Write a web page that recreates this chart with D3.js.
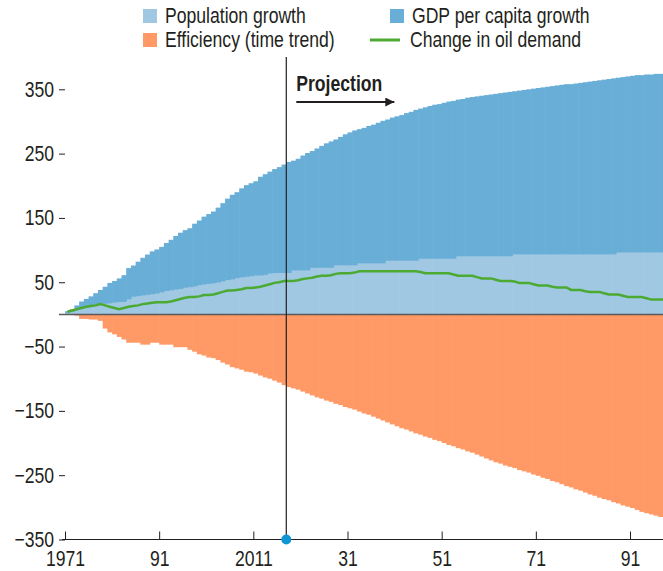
<!DOCTYPE html>
<html lang="en">
<head>
<meta charset="utf-8"/>
<title>Oil demand decomposition</title>
<script src="https://d3js.org/d3.v7.min.js"></script>
<style>
  body { margin: 0; background: #fff; }
  svg text {
    font-family: "Liberation Sans", Arial, sans-serif;
    font-size: 22px;
    fill: #231f20;
  }
  .axis .domain { display: none; }
  .axis line { stroke: #231f20; }
</style>
</head>
<body>
<div id="chart"></div>
<script>
// yearly contributions, 1971-2098
var firstYear = 1971;

var pop = [
  3, 5, 9, 10, 11, 12, 14, 16, 17, 18,
  19, 20, 20, 24, 28, 29, 30, 31, 32, 33,
  35, 37, 38, 39, 40, 42, 43, 44, 46, 47,
  48, 49, 50, 52, 54, 55, 57, 58, 59, 60,
  61, 61, 62, 64, 65, 65, 65, 65, 69, 69,
  69, 69, 73, 73, 73, 73, 73, 77, 77, 77,
  77, 77, 80, 80, 80, 80, 80, 80, 84, 84,
  84, 84, 84, 84, 84, 87, 87, 87, 87, 87,
  87, 87, 87, 91, 91, 91, 91, 91, 91, 91,
  91, 91, 91, 91, 91, 94, 94, 94, 94, 94,
  94, 94, 94, 94, 94, 94, 94, 94, 94, 94,
  94, 94, 94, 94, 94, 94, 94, 97, 97, 97,
  97, 97, 97, 97, 97, 97, 97, 97
];

var gdp = [
  2, 2, 5, 10, 13, 16, 19, 22, 26, 31,
  33, 36, 41, 48, 48, 53, 58, 62, 66, 68,
  70, 74, 78, 83, 87, 89, 91, 97, 100, 105,
  108, 111, 116, 121, 126, 131, 133, 138, 142, 144,
  146, 153, 156, 158, 161, 164, 168, 172, 170, 173,
  178, 182, 181, 185, 189, 193, 196, 195, 199, 203,
  206, 209, 208, 210, 213, 215, 218, 221, 219, 222,
  224, 226, 229, 231, 234, 233, 235, 237, 239, 240,
  242, 244, 245, 243, 244, 246, 247, 248, 249, 250,
  251, 252, 253, 254, 255, 253, 254, 255, 256, 257,
  258, 259, 260, 261, 262, 263, 264, 264, 265, 266,
  267, 268, 269, 270, 271, 272, 273, 271, 272, 273,
  274, 275, 275, 276, 276, 277, 277, 278
];

var eff = [
  2, 8, -2, -7, -7, -8, -8, -10, -22, -28,
  -31, -35, -39, -44, -44, -44, -47, -47, -44, -44,
  -47, -47, -47, -51, -51, -51, -55, -58, -62, -64,
  -67, -68, -71, -75, -78, -82, -84, -86, -89, -90,
  -92, -95, -98, -100, -103, -106, -110, -113, -115, -117,
  -120, -123, -126, -129, -131, -134, -136, -139, -141, -144,
  -146, -148, -151, -154, -156, -159, -162, -165, -168, -171,
  -174, -177, -179, -182, -185, -187, -190, -192, -195, -197,
  -200, -203, -205, -208, -210, -213, -215, -218, -221, -224,
  -227, -230, -232, -235, -237, -239, -242, -244, -246, -249,
  -251, -254, -256, -259, -261, -264, -267, -269, -272, -274,
  -277, -280, -282, -285, -287, -289, -292, -294, -297, -299,
  -301, -304, -307, -309, -311, -313, -315, -317
];

var oil = [
  4, 6, 8, 10, 12, 13, 14, 16, 14, 12,
  10, 8, 10, 12, 13, 14, 16, 17, 18, 19,
  19, 19, 20, 22, 24, 26, 27, 27, 28, 30,
  30, 31, 33, 35, 37, 37, 38, 39, 41, 41,
  42, 43, 45, 47, 49, 50, 52, 52, 52, 53,
  55, 56, 57, 59, 60, 60, 61, 63, 64, 64,
  64, 65, 67, 67, 67, 67, 67, 67, 67, 67,
  67, 67, 67, 67, 67, 66, 64, 64, 64, 64,
  64, 64, 62, 60, 60, 60, 60, 58, 56, 56,
  56, 54, 52, 52, 52, 51, 49, 49, 49, 47,
  45, 45, 45, 43, 42, 42, 42, 38, 38, 38,
  36, 35, 35, 35, 33, 31, 31, 31, 29, 27,
  27, 27, 27, 25, 23, 23, 23, 23
];

var projectionYear = 2018;
var yTicks = [350, 250, 150, 50, -50, -150, -250, -350];
var xTicks = [1971, 1991, 2011, 2031, 2051, 2071, 2091];
var xTickLabels = ["1971", "91", "2011", "31", "51", "71", "91"];

var legendItems = [
  {name: "Population growth", color: "#a0c8e3", type: "box", col: 0, row: 0},
  {name: "GDP per capita growth", color: "#68aed6", type: "box", col: 1, row: 0},
  {name: "Efficiency (time trend)", color: "#ff9966", type: "box", col: 0, row: 1},
  {name: "Change in oil demand", color: "#4caa32", type: "line", col: 1, row: 1}
];

var width = 663, height = 571;
var squeeze = 0.8; // condensed look from a regular face

// squash text horizontally, keeping its anchor point
function narrow(sel) {
  sel.each(function() {
    var t = d3.select(this);
    var xv = +t.attr("x") || 0;
    t.attr("x", xv / squeeze).attr("transform", "scale(" + squeeze + ",1)");
  });
}

var svg = d3.select("#chart").append("svg")
  .attr("width", width)
  .attr("height", height);

var x = d3.scaleLinear().domain([1971, 2091]).range([65, 630]);
var y = d3.scaleLinear().domain([-350, 350]).range([539.5, 89.3]);

var data = pop.map(function(p, i) {
  return {year: firstYear + i, pop: p, gdp: gdp[i], eff: eff[i], oil: oil[i]};
});

function barX(d) { return x(d.year); }
function barW(d) { return x(d.year + 1) - x(d.year) + 0.6; }

var bars = svg.append("g");

// efficiency (below zero)
bars.append("g").attr("fill", "#ff9966")
  .selectAll("rect").data(data).enter().append("rect")
  .attr("x", barX)
  .attr("width", barW)
  .attr("y", function(d) { return y(Math.max(0, d.eff)); })
  .attr("height", function(d) { return Math.abs(y(d.eff) - y(0)); });

// population
bars.append("g").attr("fill", "#a0c8e3")
  .selectAll("rect").data(data).enter().append("rect")
  .attr("x", barX)
  .attr("width", barW)
  .attr("y", function(d) { return y(d.pop); })
  .attr("height", function(d) { return y(0) - y(d.pop); });

// gdp per capita, stacked on population
bars.append("g").attr("fill", "#68aed6")
  .selectAll("rect").data(data).enter().append("rect")
  .attr("x", barX)
  .attr("width", barW)
  .attr("y", function(d) { return y(d.pop + d.gdp); })
  .attr("height", function(d) { return y(d.pop) - y(d.pop + d.gdp) + 0.4; });

// zero line
svg.append("line")
  .attr("x1", x.range()[0] - 6).attr("x2", width)
  .attr("y1", y(0)).attr("y2", y(0))
  .attr("stroke", "#5a5a5a")
  .attr("stroke-width", 1.5);

// oil demand line
var line = d3.line()
  .x(function(d) { return x(d.year + 0.5); })
  .y(function(d) { return y(d.oil); });

svg.append("path")
  .datum(data)
  .attr("fill", "none")
  .attr("stroke", "#4caa32")
  .attr("stroke-width", 2.5)
  .attr("d", line);

// projection marker
var px = x(projectionYear);
svg.append("line")
  .attr("x1", px).attr("x2", px)
  .attr("y1", 57).attr("y2", y(-350))
  .attr("stroke", "#231f20")
  .attr("stroke-width", 1.2);

svg.append("text")
  .attr("x", px + 10)
  .attr("y", 91)
  .attr("font-weight", "bold")
  .text("Projection")
  .call(narrow);

svg.append("defs").append("marker")
  .attr("id", "arrow")
  .attr("viewBox", "0 0 10 10")
  .attr("refX", 10).attr("refY", 5)
  .attr("markerWidth", 10).attr("markerHeight", 9)
  .attr("markerUnits", "userSpaceOnUse")
  .attr("orient", "auto")
  .append("path")
  .attr("d", "M0,0L10,5L0,10z")
  .attr("fill", "#231f20");

svg.append("line")
  .attr("x1", px + 10).attr("x2", px + 108)
  .attr("y1", 102).attr("y2", 102)
  .attr("stroke", "#231f20")
  .attr("stroke-width", 2)
  .attr("marker-end", "url(#arrow)");

// y axis
svg.append("g")
  .attr("class", "axis")
  .attr("transform", "translate(" + x.range()[0] + ",0)")
  .call(d3.axisLeft(y)
    .tickValues(yTicks)
    .tickSize(6)
    .tickPadding(5)
    .tickFormat(function(d) { return d < 0 ? "\u2212" + Math.abs(d) : d; }))
  .selectAll("text")
  .call(narrow);

// x axis
svg.append("line")
  .attr("x1", x.range()[0] - 3).attr("x2", width)
  .attr("y1", y(-350)).attr("y2", y(-350))
  .attr("stroke", "#231f20")
  .attr("stroke-width", 1.2);

svg.append("g")
  .attr("class", "axis")
  .attr("transform", "translate(0," + y(-350) + ")")
  .call(d3.axisBottom(x)
    .tickValues(xTicks)
    .tickSizeInner(-8)
    .tickSizeOuter(0)
    .tickPadding(11)
    .tickFormat(function(d, i) { return xTickLabels[i]; }))
  .selectAll("text")
  .call(narrow);

svg.selectAll(".axis").attr("font-size", null).attr("font-family", null);

svg.append("circle")
  .attr("cx", px)
  .attr("cy", y(-350))
  .attr("r", 5)
  .attr("fill", "#0e96d2");

// legend
var legend = svg.append("g").selectAll("g")
  .data(legendItems)
  .enter().append("g")
  .attr("transform", function(d) {
    return "translate(" + (d.col ? 390 : 143) + "," + (9 + d.row * 24) + ")";
  });

legend.filter(function(d) { return d.type === "box"; })
  .append("rect")
  .attr("width", 14)
  .attr("height", 14)
  .attr("fill", function(d) { return d.color; });

legend.filter(function(d) { return d.type === "line"; })
  .append("line")
  .attr("x1", -20).attr("x2", 10)
  .attr("y1", 7).attr("y2", 7)
  .attr("stroke", function(d) { return d.color; })
  .attr("stroke-width", 3);

legend.append("text")
  .attr("x", function(d) { return d.type === "box" ? 22 : 20; })
  .attr("y", 14)
  .text(function(d) { return d.name; })
  .call(narrow);
</script>
</body>
</html>
